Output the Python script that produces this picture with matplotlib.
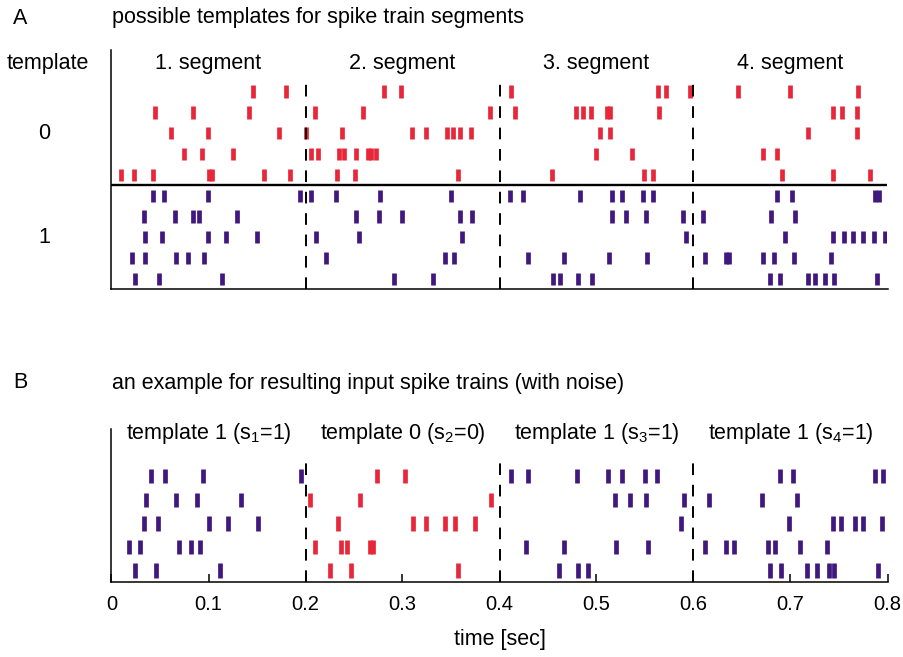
import matplotlib
matplotlib.use("Agg")
import matplotlib.pyplot as plt
from matplotlib import transforms

plt.rcParams['font.family'] = ['Liberation Sans', 'DejaVu Sans']
plt.rcParams['mathtext.fontset'] = 'custom'
plt.rcParams['mathtext.rm'] = 'Liberation Sans'
plt.rcParams['mathtext.it'] = 'Liberation Sans:italic'

RED = '#e8283a'
PURPLE = '#40187e'

# ---------------- data (spike times in seconds) ----------------
# Panel A: template 0 (red), rows top to bottom
template0 = [
    [0.146, 0.180, 0.281, 0.298, 0.412, 0.563, 0.572, 0.596, 0.646, 0.700, 0.770],
    [0.045, 0.084, 0.142, 0.210, 0.259, 0.390, 0.416, 0.479, 0.486, 0.494, 0.511, 0.514, 0.564, 0.744, 0.753, 0.769],
    [0.061, 0.099, 0.173, 0.200, 0.238, 0.310, 0.324, 0.346, 0.352, 0.359, 0.371, 0.504, 0.514, 0.718, 0.769],
    [0.075, 0.093, 0.125, 0.206, 0.213, 0.235, 0.240, 0.252, 0.264, 0.268, 0.273, 0.499, 0.537, 0.672, 0.686],
    [0.010, 0.023, 0.043, 0.100, 0.104, 0.157, 0.184, 0.232, 0.251, 0.357, 0.454, 0.549, 0.558, 0.691, 0.744, 0.782],
]
# Panel A: template 1 (purple), rows top to bottom
template1 = [
    [0.043, 0.054, 0.099, 0.194, 0.206, 0.231, 0.277, 0.350, 0.411, 0.424, 0.483, 0.516, 0.526, 0.548, 0.558, 0.686, 0.702, 0.787, 0.791],
    [0.033, 0.065, 0.084, 0.090, 0.129, 0.252, 0.276, 0.300, 0.359, 0.372, 0.516, 0.530, 0.551, 0.589, 0.610, 0.680, 0.705],
    [0.035, 0.052, 0.099, 0.118, 0.150, 0.211, 0.255, 0.361, 0.592, 0.694, 0.744, 0.755, 0.764, 0.775, 0.786, 0.797],
    [0.021, 0.035, 0.066, 0.079, 0.095, 0.221, 0.344, 0.353, 0.429, 0.467, 0.513, 0.552, 0.612, 0.633, 0.637, 0.672, 0.683, 0.704, 0.742],
    [0.024, 0.049, 0.114, 0.291, 0.331, 0.455, 0.462, 0.481, 0.495, 0.679, 0.689, 0.718, 0.725, 0.736, 0.745, 0.789],
]
# Panel B: resulting input trains, rows top to bottom
example_purple = [
    [0.041, 0.055, 0.094, 0.195, 0.412, 0.429, 0.480, 0.512, 0.526, 0.550, 0.562, 0.689, 0.703, 0.787, 0.795],
    [0.036, 0.067, 0.088, 0.133, 0.519, 0.535, 0.551, 0.590, 0.616, 0.671, 0.707],
    [0.034, 0.048, 0.101, 0.120, 0.151, 0.587, 0.698, 0.744, 0.752, 0.767, 0.775, 0.794],
    [0.018, 0.029, 0.070, 0.082, 0.091, 0.427, 0.467, 0.520, 0.553, 0.612, 0.633, 0.642, 0.677, 0.684, 0.710, 0.738],
    [0.024, 0.046, 0.112, 0.461, 0.481, 0.491, 0.679, 0.690, 0.717, 0.727, 0.740, 0.745, 0.790],
]
example_red = [
    [0.274, 0.303],
    [0.205, 0.256, 0.391],
    [0.233, 0.311, 0.324, 0.344, 0.354, 0.375],
    [0.210, 0.237, 0.243, 0.267, 0.270],
    [0.225, 0.247, 0.357],
]

segment_labels_A = ['1. segment', '2. segment', '3. segment', '4. segment']
segment_labels_B = ['template 1 (s$_1$=1)', 'template 0 (s$_2$=0)',
                    'template 1 (s$_3$=1)', 'template 1 (s$_4$=1)']
segment_bounds = [0.2, 0.4, 0.6]
segment_centers = [0.1, 0.3, 0.5, 0.7]
xticks = [0, 0.1, 0.2, 0.3, 0.4, 0.5, 0.6, 0.7, 0.8]
xticklabels = ['0', '0.1', '0.2', '0.3', '0.4', '0.5', '0.6', '0.7', '0.8']

# ---------------- figure ----------------
W, H = 904, 657
fig = plt.figure(figsize=(W / 100, H / 100), dpi=100)

def px_axes(left, top, right, bottom):
    return fig.add_axes([left / W, 1 - bottom / H, (right - left) / W, (bottom - top) / H])

BAR_LW = 3.4
FS = 15.5

# ----- Panel A -----
axA = px_axes(111.5, 50, 887.5, 289.3)
n = len(template0)
offs0 = [10 - i - 0.5 for i in range(n)]   # 9.5 .. 5.5
offs1 = [5 - i - 0.5 for i in range(n)]    # 4.5 .. 0.5
for coll in axA.eventplot(template0, lineoffsets=offs0, linelengths=0.59,
                          linewidths=BAR_LW, colors=RED):
    coll.set_capstyle('butt')
for coll in axA.eventplot(template1, lineoffsets=offs1, linelengths=0.59,
                          linewidths=BAR_LW, colors=PURPLE):
    coll.set_capstyle('butt')
axA.axhline(5.0, color='black', lw=1.7)
for b in segment_bounds:
    axA.plot([b, b], [0, 10.2], color='black', lw=1.4, ls=(0, (6, 5)))
axA.set_xlim(0, 0.8)
axA.set_ylim(0, 11.5)
for s in ['top', 'right']:
    axA.spines[s].set_visible(False)
for s in ['left', 'bottom']:
    axA.spines[s].set_linewidth(1.1)
axA.set_xticks([])
axA.set_yticks([])
for c, lab in zip(segment_centers, segment_labels_A):
    axA.text(c, 10.84, lab, ha='center', va='center', fontsize=FS)
trA = transforms.blended_transform_factory(axA.transAxes, axA.transData)
axA.text(-0.082, 10.84, 'template', transform=trA, ha='center', va='center', fontsize=FS)
axA.text(-0.087, 7.5, '0', transform=trA, ha='center', va='center', fontsize=FS)
axA.text(-0.087, 2.5, '1', transform=trA, ha='center', va='center', fontsize=FS)

fig.text(13 / W, 1 - 18 / H, 'A', ha='left', va='center', fontsize=FS)
fig.text(112 / W, 1 - 18 / H, 'possible templates for spike train segments',
         ha='left', va='center', fontsize=FS)

# ----- Panel B -----
axB = px_axes(111.5, 429.3, 887.5, 582.3)
offsB = [5 - i - 0.5 for i in range(n)]
for coll in axB.eventplot(example_purple, lineoffsets=offsB, linelengths=0.6,
                          linewidths=BAR_LW, colors=PURPLE):
    coll.set_capstyle('butt')
for coll in axB.eventplot(example_red, lineoffsets=offsB, linelengths=0.6,
                          linewidths=BAR_LW, colors=RED):
    coll.set_capstyle('butt')
for b in segment_bounds:
    axB.plot([b, b], [0, 5.1], color='black', lw=1.4, ls=(0, (6, 5)))
axB.set_xlim(0, 0.8)
axB.set_ylim(0, 6.5)
for s in ['top', 'right']:
    axB.spines[s].set_visible(False)
for s in ['left', 'bottom']:
    axB.spines[s].set_linewidth(1.1)
axB.set_yticks([])
axB.set_xticks(xticks)
axB.set_xticklabels(xticklabels)
axB.tick_params(axis='x', direction='in', length=6, width=1.1, pad=9, labelsize=14.5)
axB.set_xlabel('time [sec]', fontsize=15.5, labelpad=11)
for c, lab in zip(segment_centers, segment_labels_B):
    axB.text(c, 6.33, lab, ha='center', va='center', fontsize=FS)

fig.text(13 / W, 1 - 383 / H, 'B', ha='left', va='center', fontsize=FS)
fig.text(112 / W, 1 - 383 / H, 'an example for resulting input spike trains (with noise)',
         ha='left', va='center', fontsize=FS)

fig.savefig('out.png', dpi=100)
